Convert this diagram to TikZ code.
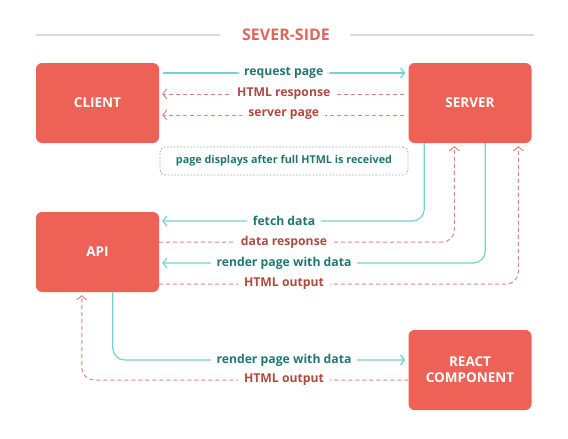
\documentclass[tikz,border=0pt]{standalone}
\usepackage{fontspec}
\setmainfont{Open Sans}
\usetikzlibrary{arrows.meta}
\definecolor{boxred}{HTML}{EE6157}
\definecolor{flowteal}{HTML}{72D4CC}
\definecolor{textteal}{HTML}{1F7771}
\definecolor{flowred}{HTML}{DA857D}
\definecolor{textred}{HTML}{B04A40}
\definecolor{rulegray}{HTML}{D6DCE2}
\definecolor{notegray}{HTML}{97A3AC}
\definecolor{titlered}{HTML}{DF665C}
\tikzset{
  block/.style={fill=boxred, rounded corners=6pt, minimum width=123pt,
    minimum height=80pt, text=white, align=center,
    font=\bfseries\fontsize{13.5}{16}\selectfont},
  req/.style={draw=flowteal, line width=1.2pt, rounded corners=12pt,
    -{Straight Barb[length=4pt,width=10pt]}},
  resp/.style={draw=flowred, line width=1pt, dash pattern=on 4pt off 3pt,
    rounded corners=12pt, -{Straight Barb[length=4pt,width=10pt]}},
  reqlabel/.style={fill=white, text=textteal, inner xsep=6pt, inner ysep=1pt,
    font=\bfseries\fontsize{12.2}{14}\selectfont},
  resplabel/.style={reqlabel, text=textred}
}
\begin{document}
\begin{tikzpicture}[x=1pt, y=-1pt]
  \useasboundingbox (0,0) rectangle (568,439);
  % title
  \draw[rulegray, line width=1.5pt] (36,35) -- (220,35) (350,35) -- (534,35);
  \node[text=titlered, font=\bfseries\fontsize{16}{18}\selectfont] (title) at (286,35) {SEVER-SIDE};
  % boxes
  \node[block] (client) at (97.5,103) {CLIENT};
  \node[block] (server) at (470,103) {SERVER};
  \node[block] (api) at (97.5,252) {API};
  \node[block] (react) at (470,370) {REACT\\COMPONENT};
  \node[draw=notegray, dash pattern=on 1.5pt off 1.8pt, line width=0.7pt, rounded corners=5pt,
    minimum width=248pt, minimum height=28pt, text=textteal,
    font=\bfseries\fontsize{10.8}{12}\selectfont] (note) at (284,161)
    {page displays after full HTML is received};
  % client <-> server
  \begin{scope}[shorten >=3pt, shorten <=4pt]
    \draw[req] ([yshift=30pt]client.east) -- node[reqlabel] {request page} ([yshift=30pt]server.west);
    \draw[resp] ([yshift=9pt]server.west) -- node[resplabel] {HTML response} ([yshift=9pt]client.east);
    \draw[resp] ([yshift=-12pt]server.west) -- node[resplabel] {server page} ([yshift=-12pt]client.east);
  \end{scope}
  % server <-> api
  \begin{scope}[shorten >=3pt]
    \draw[req] ([xshift=16pt]server.south west) |- ([yshift=31pt]api.east);
    \draw[resp] ([yshift=10pt]api.east) -| ([xshift=46pt]server.south west);
    \draw[req] ([xshift=77pt]server.south west) |- ([yshift=-11pt]api.east);
    \draw[resp] ([yshift=-32pt]api.east) -| ([xshift=110pt]server.south west);
  \end{scope}
  \node[reqlabel] (l1) at (284,221) {fetch data};
  \node[resplabel] (l2) at (284,242) {data response};
  \node[reqlabel] (l3) at (284,263) {render page with data};
  \node[resplabel] (l4) at (284,284) {HTML output};
  % api <-> react
  \begin{scope}[shorten >=3pt]
    \draw[req] ([xshift=77pt]api.south west) |- ([yshift=10pt]react.west);
    \draw[resp] ([yshift=-10pt]react.west) -| ([xshift=46pt]api.south west);
  \end{scope}
  \node[reqlabel] (l5) at (284,360) {render page with data};
  \node[resplabel] (l6) at (284,380) {HTML output};
\end{tikzpicture}
\end{document}
